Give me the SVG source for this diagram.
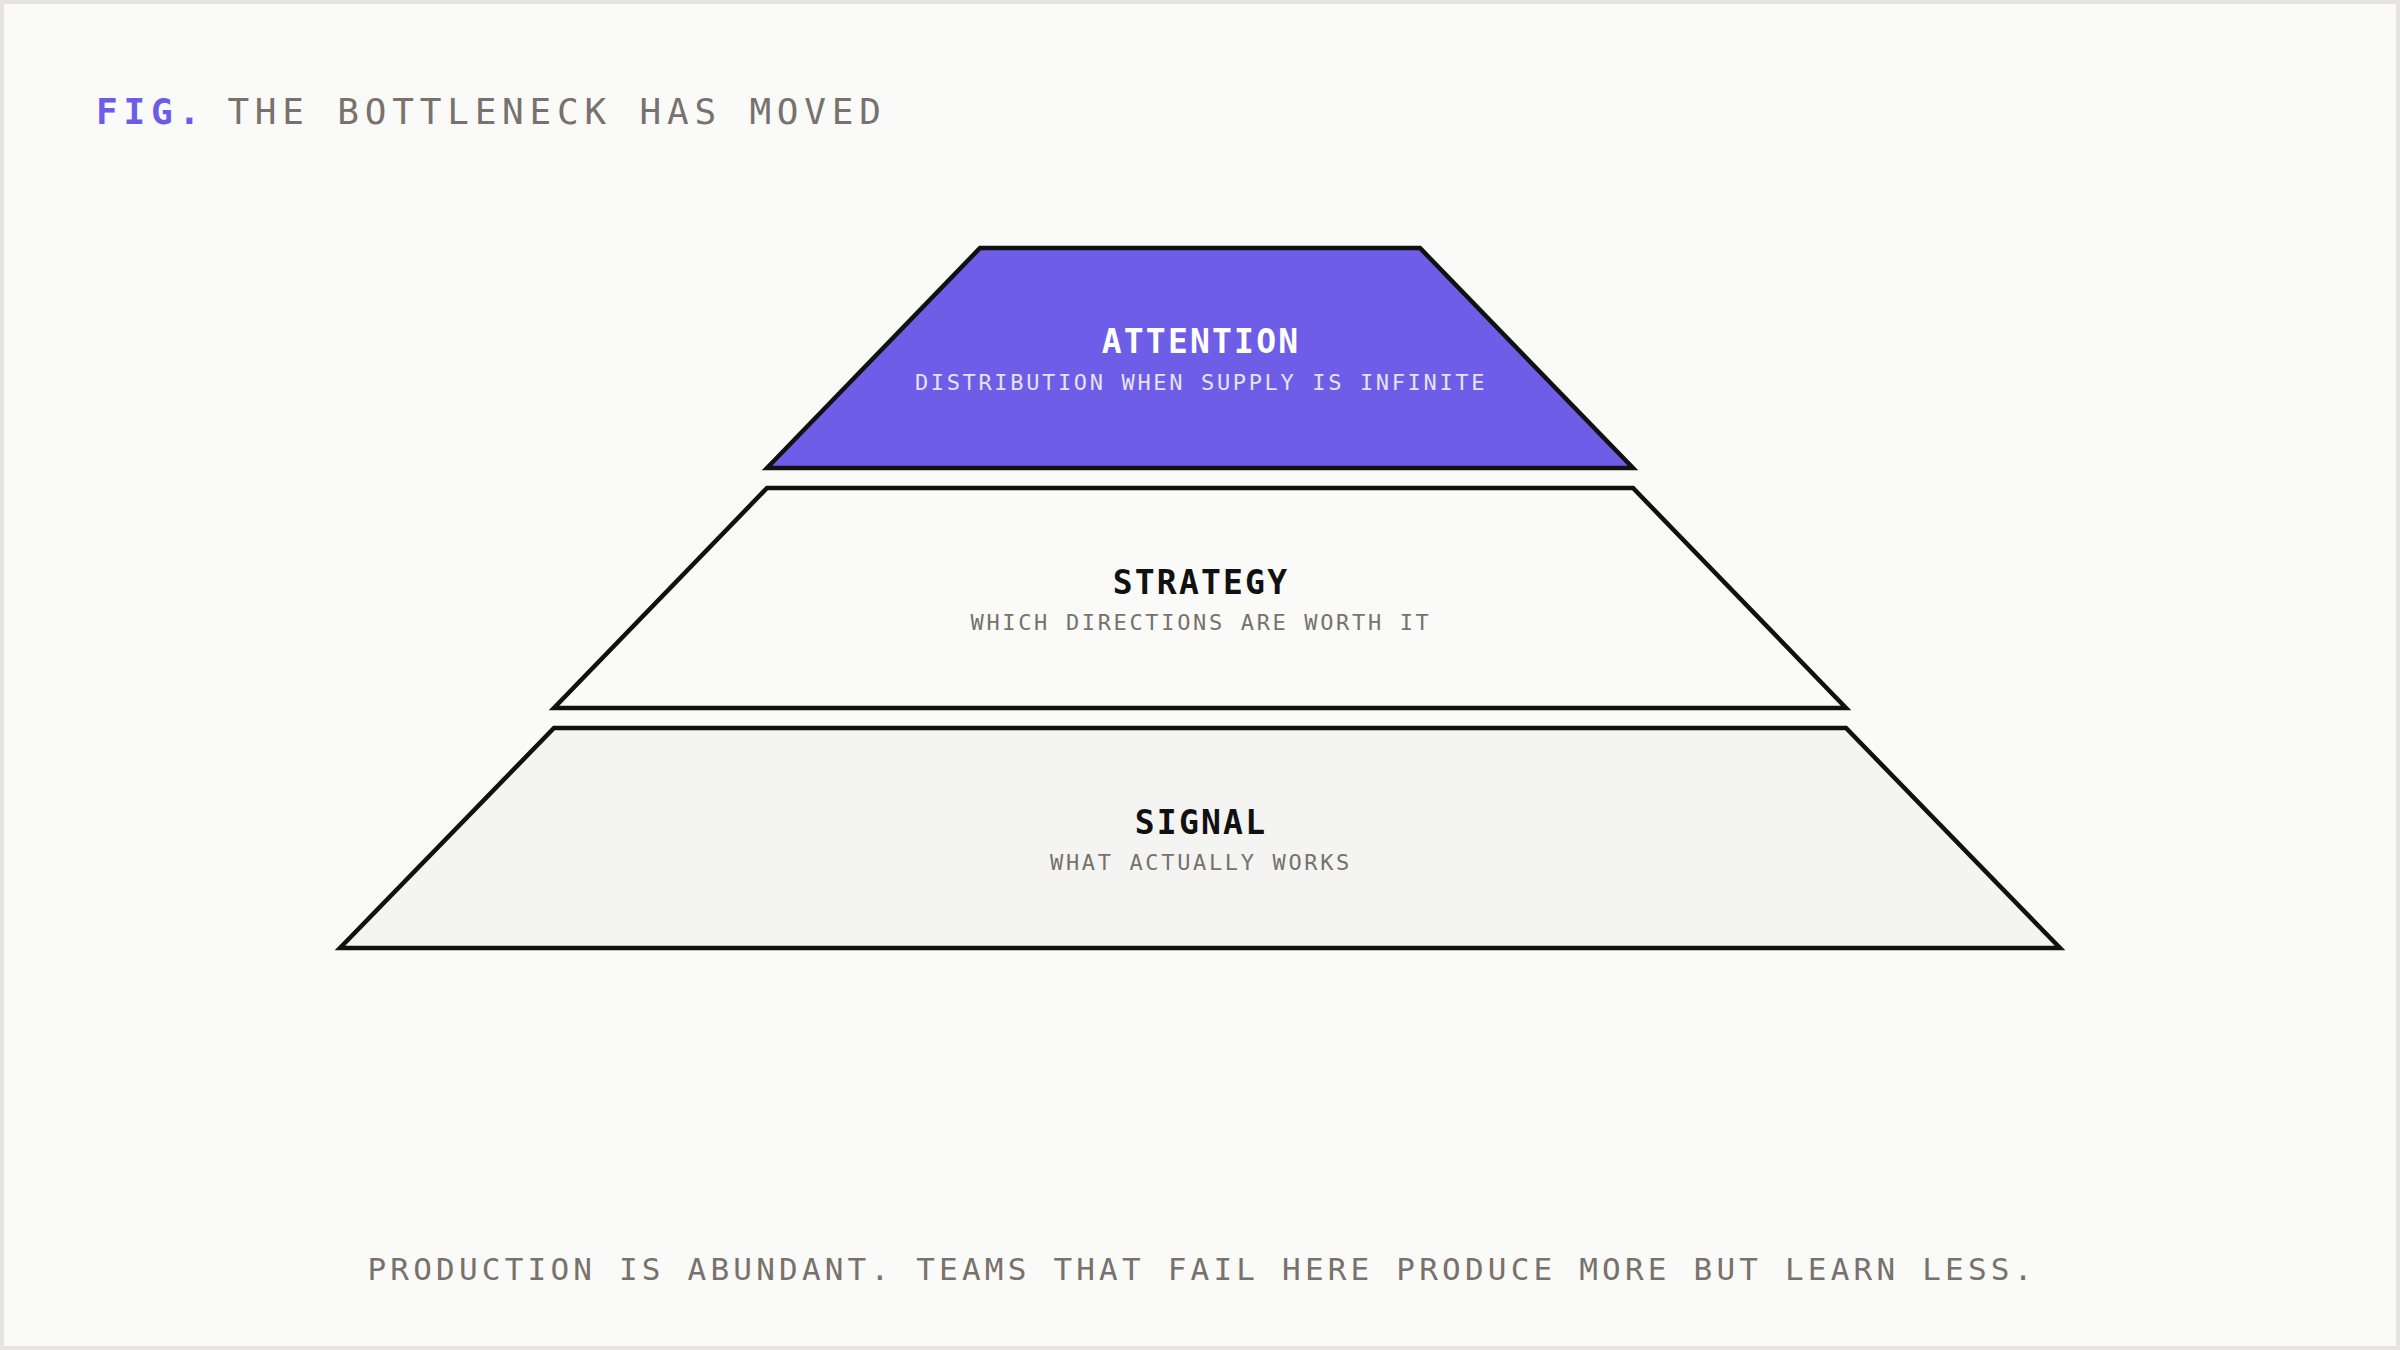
<svg xmlns="http://www.w3.org/2000/svg" width="2400" height="1350" viewBox="0 0 2400 1350">
  <style>
    .layer { stroke: #111111; stroke-width: 4.5; stroke-linejoin: miter; }
    .t { font-family: "DejaVu Sans Mono", "Liberation Mono", monospace; font-weight: bold; font-size: 33px; letter-spacing: 2.2px; text-anchor: middle; }
    .s { font-family: "DejaVu Sans Mono", "Liberation Mono", monospace; font-size: 22px; letter-spacing: 2.65px; text-anchor: middle; }
    .hdr { font-family: "DejaVu Sans Mono", "Liberation Mono", monospace; font-size: 36px; letter-spacing: 5.8px; }
    .foot { font-family: "DejaVu Sans Mono", "Liberation Mono", monospace; font-size: 31px; letter-spacing: 4.2px; text-anchor: middle; fill: #78716C; }
  </style>
  <rect x="2" y="2" width="2396" height="1346" fill="#FAFAF8" stroke="#E5E4E1" stroke-width="4"/>

  <text class="hdr" x="96" y="124"><tspan fill="#6C5CE7" font-weight="bold">FIG.</tspan><tspan fill="#78716C" dx="-6"> THE BOTTLENECK HAS MOVED</tspan></text>

  <g id="connectors"></g>

  <g id="attention">
    <polygon class="layer" fill="#6E5DE7" points="980,248 1420,248 1633,468 767,468"/>
    <text class="t" x="1201" y="353" fill="#FFFFFF">ATTENTION</text>
    <text class="s" x="1201" y="390" fill="#E6E3F7">DISTRIBUTION WHEN SUPPLY IS INFINITE</text>
  </g>

  <g id="strategy">
    <polygon class="layer" fill="#FAFAF8" points="767,488 1633,488 1846,708 554,708"/>
    <text class="t" x="1201" y="594" fill="#111111">STRATEGY</text>
    <text class="s" x="1201" y="630" fill="#78716C">WHICH DIRECTIONS ARE WORTH IT</text>
  </g>

  <g id="signal">
    <polygon class="layer" fill="#F4F4F2" points="554,728 1846,728 2060,948 340,948"/>
    <text class="t" x="1201" y="834" fill="#111111">SIGNAL</text>
    <text class="s" x="1201" y="870" fill="#78716C">WHAT ACTUALLY WORKS</text>
  </g>

  <text class="foot" x="1202" y="1280">PRODUCTION IS ABUNDANT. TEAMS THAT FAIL HERE PRODUCE MORE BUT LEARN LESS.</text>
</svg>
